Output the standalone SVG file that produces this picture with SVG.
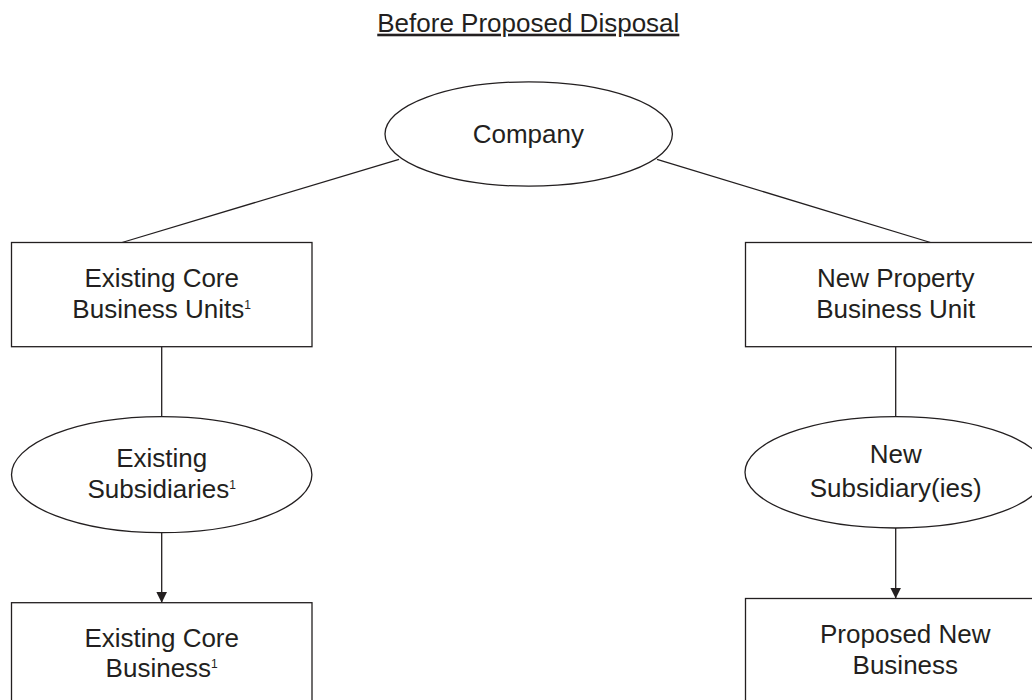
<svg xmlns="http://www.w3.org/2000/svg" width="1032" height="700" viewBox="0 0 1032 700">
  <style>
    .shape { fill: #ffffff; stroke: #231f20; stroke-width: 1.3; }
    .link { fill: none; stroke: #231f20; stroke-width: 1.3; }
    text { font-family: "Liberation Sans", Arial, Helvetica, sans-serif; font-size: 26px; fill: #231f20; text-anchor: middle; }
    .sup { font-size: 12px; }
  </style>
  <defs>
    <marker id="arrow" viewBox="0 0 10 10" refX="10" refY="5" markerWidth="11" markerHeight="11" markerUnits="userSpaceOnUse" orient="auto">
      <path d="M0,0 L10,5 L0,10 Z" fill="#231f20"/>
    </marker>
  </defs>
  <rect width="1032" height="700" fill="#ffffff"/>

  <text id="title" x="528.3" y="31.7" text-decoration="underline">Before Proposed Disposal</text>

  <g id="connectors">
    <line class="link" x1="399" y1="159.3" x2="122" y2="242.5"/>
    <line class="link" x1="657" y1="159.3" x2="930.5" y2="242.5"/>
    <line class="link" x1="161.7" y1="346.7" x2="161.7" y2="416.7"/>
    <line class="link" x1="161.7" y1="532.7" x2="161.7" y2="602.7" marker-end="url(#arrow)"/>
    <line class="link" x1="895.7" y1="346.7" x2="895.7" y2="416.7"/>
    <line class="link" x1="895.7" y1="528" x2="895.7" y2="598.5" marker-end="url(#arrow)"/>
  </g>

  <g id="company">
    <ellipse class="shape" cx="528.7" cy="134" rx="143.7" ry="52.2"/>
    <text x="528.3" y="143">Company</text>
  </g>

  <g id="existing-core-units">
    <rect class="shape" x="11.5" y="242.5" width="300.5" height="104.2"/>
    <text x="161.7" y="287.3">Existing Core</text>
    <text x="161.7" y="318.3">Business Units<tspan class="sup" dy="-9">1</tspan></text>
  </g>

  <g id="existing-subsidiaries">
    <ellipse class="shape" cx="161.7" cy="474.7" rx="150.2" ry="58"/>
    <text x="161.7" y="467.3">Existing</text>
    <text x="161.7" y="498.3">Subsidiaries<tspan class="sup" dy="-9">1</tspan></text>
  </g>

  <g id="existing-core-business">
    <rect class="shape" x="11.5" y="602.7" width="300.5" height="120"/>
    <text x="161.7" y="646.7">Existing Core</text>
    <text x="161.7" y="677.3">Business<tspan class="sup" dy="-9">1</tspan></text>
  </g>

  <g id="new-property-unit">
    <rect class="shape" x="745.5" y="242.5" width="300.5" height="104.2"/>
    <text x="895.7" y="287.3">New Property</text>
    <text x="895.7" y="318.3">Business Unit</text>
  </g>

  <g id="new-subsidiaries">
    <ellipse class="shape" cx="895.7" cy="472.3" rx="150.7" ry="55.7"/>
    <text x="895.7" y="463.3">New</text>
    <text x="895.7" y="496.7">Subsidiary(ies)</text>
  </g>

  <g id="proposed-new-business">
    <rect class="shape" x="745.5" y="598.5" width="320" height="120"/>
    <text x="905.3" y="642.7">Proposed New</text>
    <text x="905.3" y="674.3">Business</text>
  </g>
</svg>
